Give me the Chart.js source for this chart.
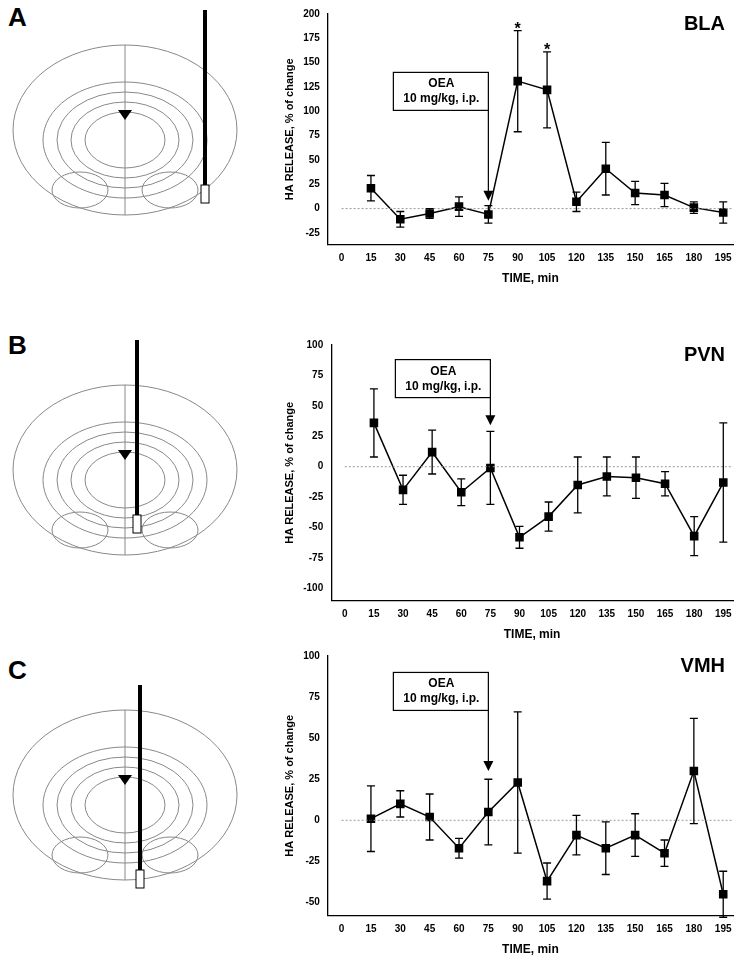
<!DOCTYPE html>
<html><head><meta charset="utf-8">
<script src="https://cdn.jsdelivr.net/npm/chart.js@4"></script>
<style>
body{margin:0;background:#fff;width:743px;height:975px;position:relative;font-family:Arial,"Liberation Sans",sans-serif;overflow:hidden}
canvas{position:absolute}
.lt{position:absolute;font-weight:bold;font-size:26px;font-family:"Liberation Sans",Arial,sans-serif}
</style></head><body>
<div class="lt" style="left:8px;top:2px">A</div>
<div class="lt" style="left:8px;top:330px">B</div>
<div class="lt" style="left:8px;top:655px">C</div>
<canvas id="b1" width="250" height="320" style="left:0px;top:0px"></canvas>
<canvas id="b2" width="250" height="320" style="left:0px;top:330px"></canvas>
<canvas id="b3" width="250" height="320" style="left:0px;top:655px"></canvas>
<div style="position:absolute;left:265px;top:2px;width:478px;height:288px"><canvas id="c1"></canvas></div>
<div style="position:absolute;left:265px;top:333px;width:478px;height:313px"><canvas id="c2"></canvas></div>
<div style="position:absolute;left:265px;top:644px;width:478px;height:317px"><canvas id="c3"></canvas></div>
<script>
const times=[15,30,45,60,75,90,105,120,135,150,165,180,195];
const xTicks=[0,15,30,45,60,75,90,105,120,135,150,165,180,195];
const blaMean=[21,-11,-5,2,-6,131,122,7,41,16,14,1,-4];
const blaErr=[13,8,5,10,9,52,39,10,27,12,12,6,11];
const pvnMean=[36,-19,12,-21,-1,-58,-41,-15,-8,-9,-14,-57,-13];
const pvnErr=[28,12,18,11,30,9,12,23,16,17,10,16,49];
const vmhMean=[1,10,2,-17,5,23,-37,-9,-17,-9,-20,30,-45];
const vmhErr=[20,8,14,6,20,43,11,12,16,13,8,32,14];

function brain(id,cy,px,pt,pb){
  const c=document.getElementById(id).getContext('2d');
  c.strokeStyle='#888';c.lineWidth=1;
  c.beginPath();c.ellipse(125,cy,112,85,0,0,Math.PI*2);c.stroke();
  c.beginPath();c.moveTo(125,cy-85);c.lineTo(125,cy+85);c.stroke();
  for(let i=0;i<4;i++){c.beginPath();c.ellipse(125,cy+10,82-i*14,58-i*10,0,0,Math.PI*2);c.stroke();}
  c.beginPath();c.ellipse(80,cy+60,28,18,0,0,Math.PI*2);c.stroke();
  c.beginPath();c.ellipse(170,cy+60,28,18,0,0,Math.PI*2);c.stroke();
  c.fillStyle='#000';c.beginPath();c.moveTo(118,cy-20);c.lineTo(132,cy-20);c.lineTo(125,cy-10);c.fill();
  c.strokeStyle='#000';c.lineWidth=4;c.beginPath();c.moveTo(px,pt);c.lineTo(px,pb);c.stroke();
  c.lineWidth=1;c.fillStyle='#fff';c.fillRect(px-4,pb-15,8,18);c.strokeRect(px-4,pb-15,8,18);
}
brain('b1',130,205,10,200);
brain('b2',140,137,10,200);
brain('b3',140,140,30,230);

function make(id,mean,err,ymin,ymax,title,boxTop,arrowEnd,stars){
  const plug={id:'x',afterDatasetsDraw(ch){
    const c=ch.ctx,x=ch.scales.x,y=ch.scales.y;
    c.save();
    c.setLineDash([2,2]);c.strokeStyle='#999';c.lineWidth=1;
    c.beginPath();c.moveTo(x.getPixelForValue(0),y.getPixelForValue(0));c.lineTo(x.right,y.getPixelForValue(0));c.stroke();
    c.setLineDash([]);c.strokeStyle='#000';c.lineWidth=1.3;
    times.forEach((t,i)=>{const px=x.getPixelForValue(t),a=y.getPixelForValue(mean[i]+err[i]),b=y.getPixelForValue(mean[i]-err[i]);
      c.beginPath();c.moveTo(px,a);c.lineTo(px,b);c.moveTo(px-4,a);c.lineTo(px+4,a);c.moveTo(px-4,b);c.lineTo(px+4,b);c.stroke();});
    const rx=x.getPixelForValue(75),bt=y.getPixelForValue(boxTop);
    c.lineWidth=1.2;c.strokeRect(rx-95,bt,95,38);
    c.fillStyle='#000';c.font='bold 12px Arial';c.textAlign='center';
    c.fillText('OEA',rx-47,bt+15);c.fillText('10 mg/kg, i.p.',rx-47,bt+30);
    const ae=y.getPixelForValue(arrowEnd);
    c.beginPath();c.moveTo(rx,bt+38);c.lineTo(rx,ae-8);c.stroke();
    c.beginPath();c.moveTo(rx-5,ae-10);c.lineTo(rx+5,ae-10);c.lineTo(rx,ae);c.closePath();c.fill();
    c.font='bold 20px Arial';c.textAlign='right';c.fillText(title,x.right-8,y.top+16);
    c.font='bold 16px Arial';c.textAlign='center';
    stars.forEach(([t,v])=>c.fillText('*',x.getPixelForValue(t),y.getPixelForValue(v)+10));
    c.restore();}};
  new Chart(document.getElementById(id),{type:'line',
    data:{datasets:[{data:times.map((t,i)=>({x:t,y:mean[i]})),borderColor:'#000',backgroundColor:'#000',borderWidth:1.5,
      pointStyle:'rect',pointRadius:5,tension:0}]},
    options:{responsive:true,maintainAspectRatio:false,animation:false,
      layout:{padding:{right:10,top:12,left:14}},
      plugins:{legend:{display:false},tooltip:{enabled:false}},
      scales:{
        x:{type:'linear',min:-7,max:200,afterBuildTicks:s=>{s.ticks=xTicks.map(v=>({value:v}))},
          grid:{display:false,tickLength:5},border:{color:'#000',width:1.3},
          ticks:{color:'#000',font:{size:10,family:'Arial',weight:'bold'},callback:v=>v},
          title:{display:true,text:'TIME, min',color:'#000',font:{size:12,weight:'bold',family:'Arial'}}},
        y:{min:ymin,max:ymax,grid:{display:false,tickLength:5},border:{color:'#000',width:1.3},
          afterBuildTicks:s=>{s.ticks=s.ticks.filter(t=>t.value%25===0)},
          ticks:{stepSize:25,color:'#000',font:{size:10,family:'Arial',weight:'bold'}},
          title:{display:true,text:'HA RELEASE, % of change',color:'#000',font:{size:11,weight:'bold',family:'Arial'}}}}},
    plugins:[plug]});
}
make('c1',blaMean,blaErr,-37,200,'BLA',140,8,[[90,190],[105,168]]);
make('c2',pvnMean,pvnErr,-110,100,'PVN',88,34,[]);
make('c3',vmhMean,vmhErr,-58,100,'VMH',90,30,[]);
</script></body></html>
